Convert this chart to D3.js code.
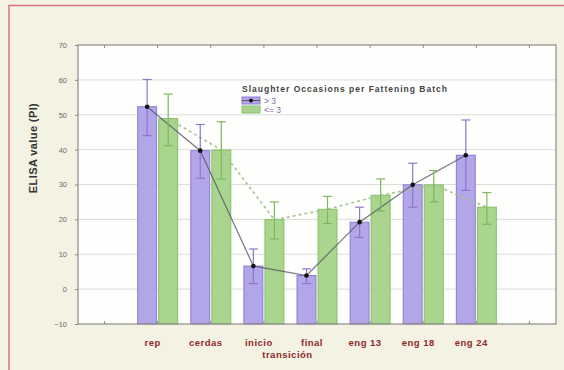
<!DOCTYPE html>
<html>
<head>
<meta charset="utf-8">
<script src="https://cdn.jsdelivr.net/npm/d3@7"></script>
<style>
  html, body { margin: 0; padding: 0; background: #f4f2e3; }
  svg { display: block; }
</style>
</head>
<body>
<svg id="chart" width="564" height="370"></svg>
<script>
// Sampling stages
const categories = ["rep", "cerdas", "inicio", "final", "eng 13", "eng 18", "eng 24"];
// Series: slaughter occasions per fattening batch
const seriesNames = ["> 3", "<= 3"];
const meanGt3 = [52.3, 39.7, 6.6, 3.9, 19.2, 29.9, 38.4];
const lowGt3  = [44.0, 31.8, 1.6, 1.6, 14.8, 23.5, 28.3];
const highGt3 = [60.1, 47.2, 11.5, 5.8, 23.5, 36.1, 48.5];
const meanLe3 = [48.9, 39.9, 19.9, 22.9, 26.9, 29.9, 23.5];
const lowLe3  = [41.1, 31.6, 14.4, 18.8, 22.4, 25.0, 18.6];
const highLe3 = [55.9, 48.0, 25.0, 26.6, 31.6, 34.0, 27.7];
const yTicks = [-10, 0, 10, 20, 30, 40, 50, 60, 70];

const svg = d3.select("#chart");
const FONT = "Liberation Sans, Arial, sans-serif";

// Outer frame
svg.append("rect").attr("x", 0).attr("y", 0).attr("width", 564).attr("height", 370).attr("fill", "#f4f2e3");
svg.append("rect").attr("x", 9).attr("y", 5.5).attr("width", 600).attr("height", 400)
  .attr("fill", "none").attr("stroke", "#d9727c").attr("stroke-width", 1.5);

const plot = { left: 78, right: 556, top: 45, bottom: 324 };

// Nine slots along x: an empty slot at each end, categories in between
const slots = ["_a", ...categories, "_b"];
const x = d3.scaleBand().domain(slots).range([plot.left, plot.right]).padding(0);
const xs = d3.scaleBand().domain(seriesNames).range([0, 40]).paddingInner(0.1);
const y = d3.scaleLinear().domain([-10, 70]).range([plot.bottom, plot.top]);

// Plot background
svg.append("rect").attr("x", plot.left).attr("y", plot.top)
  .attr("width", plot.right - plot.left).attr("height", plot.bottom - plot.top)
  .attr("fill", "#fefefc");

// Horizontal grid
svg.append("g").selectAll("line").data(yTicks.filter(t => t > -10 && t < 70)).join("line")
  .attr("x1", plot.left).attr("x2", plot.right)
  .attr("y1", d => y(d)).attr("y2", d => y(d))
  .attr("stroke", "#dcdcdc").attr("stroke-width", 1);

const series = [
  { name: "> 3", mean: meanGt3, low: lowGt3, high: highGt3, fill: "#b2a5e8", stroke: "#8f7bd6", err: "#8c77cf" },
  { name: "<= 3", mean: meanLe3, low: lowLe3, high: highLe3, fill: "#a9d58e", stroke: "#84c164", err: "#7cb95c" }
];

const cx = (ci, s) => x(categories[ci]) + (x.bandwidth() - 40) / 2 + xs(s) + xs.bandwidth() / 2;

// Bars
series.forEach(s => {
  svg.append("g").selectAll("rect").data(s.mean).join("rect")
    .attr("x", (d, i) => cx(i, s.name) - xs.bandwidth() / 2)
    .attr("width", xs.bandwidth())
    .attr("y", d => y(d))
    .attr("height", d => y(-10) - y(d))
    .attr("fill", s.fill).attr("stroke", s.stroke).attr("stroke-width", 1);
});

// Connecting lines
const lineGen = si => d3.line().x((d, i) => cx(i, series[si].name)).y(d => y(d));
svg.append("path").datum(meanLe3).attr("d", lineGen(1))
  .attr("fill", "none").attr("stroke", "#a3c690").attr("stroke-width", 1.6)
  .attr("stroke-dasharray", "3,3");
svg.append("path").datum(meanGt3).attr("d", lineGen(0))
  .attr("fill", "none").attr("stroke", "#5a5466").attr("stroke-width", 1.2).attr("opacity", 0.8);

// Error bars
series.forEach(s => {
  const g = svg.append("g").attr("stroke", s.err).attr("stroke-width", 1.2);
  s.mean.forEach((m, i) => {
    const c = cx(i, s.name);
    g.append("line").attr("x1", c).attr("x2", c).attr("y1", y(s.low[i])).attr("y2", y(s.high[i]));
    g.append("line").attr("x1", c - 4.5).attr("x2", c + 4.5).attr("y1", y(s.high[i])).attr("y2", y(s.high[i]));
    g.append("line").attr("x1", c - 4.5).attr("x2", c + 4.5).attr("y1", y(s.low[i])).attr("y2", y(s.low[i]));
  });
});

// Markers on the "> 3" means
svg.append("g").selectAll("circle").data(meanGt3).join("circle")
  .attr("cx", (d, i) => cx(i, "> 3")).attr("cy", d => y(d)).attr("r", 2.3)
  .attr("fill", "#111");

// Plot border
svg.append("rect").attr("x", plot.left).attr("y", plot.top)
  .attr("width", plot.right - plot.left).attr("height", plot.bottom - plot.top)
  .attr("fill", "none").attr("stroke", "#8a8a8a").attr("stroke-width", 1.2);

// Small tick marks on top and bottom edges at slot centres
slots.forEach(sl => {
  const c = x(sl) + x.bandwidth() / 2;
  svg.append("line").attr("x1", c).attr("x2", c).attr("y1", plot.top).attr("y2", plot.top + 3).attr("stroke", "#8a8a8a");
  svg.append("line").attr("x1", c).attr("x2", c).attr("y1", plot.bottom).attr("y2", plot.bottom - 3).attr("stroke", "#8a8a8a");
});

// Y axis
const yAxis = d3.axisLeft(y).tickValues(yTicks).tickSize(3).tickPadding(8);
const yg = svg.append("g").attr("transform", `translate(${plot.left},0)`).call(yAxis);
yg.select(".domain").remove();
yg.selectAll("line").attr("stroke", "#8a8a8a");
yg.selectAll("text").attr("font-family", FONT)
  .attr("font-size", 7.5).attr("fill", "#6a6a6a");

svg.append("text")
  .attr("transform", "translate(37,148) rotate(-90)")
  .attr("text-anchor", "middle")
  .attr("font-family", FONT)
  .attr("font-weight", "bold").attr("font-size", 11).attr("letter-spacing", 0.4).attr("fill", "#333")
  .text("ELISA value (PI)");

// X labels
const xLabels = svg.append("g").attr("font-family", FONT)
  .attr("font-weight", "bold").attr("font-size", 9.5).attr("letter-spacing", 0.5)
  .attr("fill", "#8e2a2a").attr("text-anchor", "middle");
categories.forEach(c => {
  xLabels.append("text").attr("x", x(c) + x.bandwidth() / 2 - 5).attr("y", 346).text(c);
});
xLabels.append("text")
  .attr("x", (x("inicio") + x("final") + x.bandwidth()) / 2 - 3).attr("y", 358).text("transición");

// Legend
const lg = svg.append("g").attr("font-family", FONT);
lg.append("text").attr("x", 242).attr("y", 92).attr("font-size", 8.5).attr("font-weight", "bold")
  .attr("fill", "#444").attr("textLength", 205).attr("lengthAdjust", "spacing")
  .text("Slaughter Occasions per Fattening Batch");
series.forEach((s, i) => {
  const yy = 97 + i * 9;
  lg.append("rect").attr("x", 242).attr("y", yy).attr("width", 18).attr("height", 7)
    .attr("fill", s.fill).attr("stroke", s.stroke);
  if (i === 0) {
    lg.append("line").attr("x1", 242).attr("x2", 260).attr("y1", yy + 3.5).attr("y2", yy + 3.5).attr("stroke", "#5a5466");
    lg.append("circle").attr("cx", 251).attr("cy", yy + 3.5).attr("r", 2).attr("fill", "#111");
  } else {
    lg.append("line").attr("x1", 242).attr("x2", 260).attr("y1", yy + 3.5).attr("y2", yy + 3.5)
      .attr("stroke", "#a3c690").attr("stroke-dasharray", "2,2");
  }
  lg.append("text").attr("x", 264).attr("y", yy + 7).attr("font-size", 8.5).attr("fill", "#7a6aa8").text(s.name);
});
</script>
</body>
</html>
